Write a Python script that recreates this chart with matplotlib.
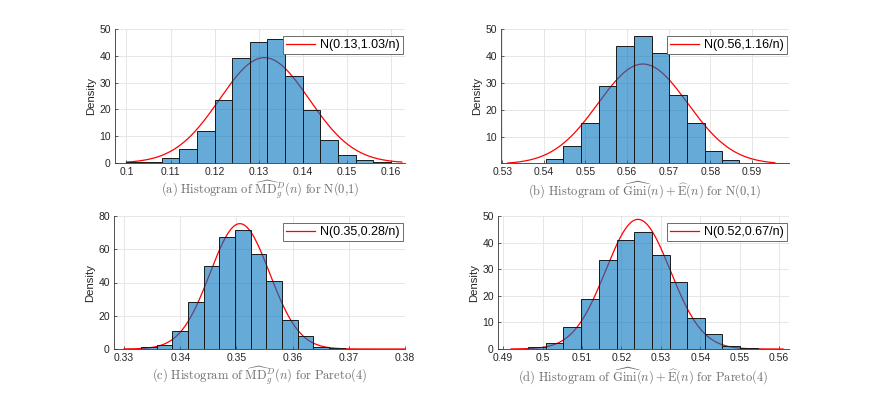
import numpy as np
import matplotlib
matplotlib.use("Agg")
import matplotlib.pyplot as plt

plt.rcParams['font.family'] = ['Liberation Sans', 'DejaVu Sans']
plt.rcParams['mathtext.fontset'] = 'cm'

# panel (a): MD estimator, N(0,1)
a_edges = [0.100, 0.104, 0.108, 0.112, 0.116, 0.120, 0.124, 0.128, 0.132,
           0.136, 0.140, 0.144, 0.148, 0.152, 0.156, 0.160]
a_heights = [0.2, 0.2, 2.0, 5.2, 11.9, 23.6, 39.1, 45.0, 46.2, 32.4, 19.7, 8.6, 3.1, 1.1, 0.2]
a_mean, a_var = 0.1313, 1.03

# panel (b): Gini + E, N(0,1)
b_edges = [0.5405, 0.5447, 0.5490, 0.5532, 0.5574, 0.5617, 0.5659, 0.5701,
           0.5743, 0.5786, 0.5828, 0.5870]
b_heights = [1.9, 6.7, 15.3, 28.9, 43.6, 47.3, 41.0, 25.7, 15.3, 4.7, 1.5]
b_mean, b_var = 0.5638, 1.16

# panel (c): MD estimator, Pareto(4)
c_edges = [0.3330, 0.3358, 0.3386, 0.3414, 0.3442, 0.3469, 0.3497, 0.3525,
           0.3553, 0.3581, 0.3609, 0.3637, 0.3665, 0.3693, 0.3721]
c_heights = [1.2, 2.4, 10.8, 28.1, 49.7, 67.6, 71.8, 57.3, 40.7, 17.4, 7.8, 1.2, 0.5, 0.2]
c_mean, c_var = 0.3506, 0.28

# panel (d): Gini + E, Pareto(4)
d_edges = [0.4919, 0.4964, 0.5008, 0.5053, 0.5098, 0.5143, 0.5188, 0.5232,
           0.5277, 0.5322, 0.5367, 0.5412, 0.5456, 0.5501, 0.5546, 0.5591]
d_heights = [0.1, 0.75, 2.4, 8.2, 18.7, 33.3, 41.1, 43.8, 35.2, 25.1, 11.6, 5.7, 1.1, 0.4, 0.1]
d_mean, d_var = 0.5242, 0.67

n = 10000

labels = ['N(0.13,1.03/n)', 'N(0.56,1.16/n)', 'N(0.35,0.28/n)', 'N(0.52,0.67/n)']
captions = [
    r'$\mathrm{(a)\ Histogram\ of\ }\widehat{\mathrm{MD}}_{g}^{D}(n)\mathrm{\ for\ N(0{,}1)}$',
    r'$\mathrm{(b)\ Histogram\ of\ }\widehat{\mathrm{Gini}}(n)+\widehat{\mathrm{E}}(n)\mathrm{\ for\ N(0{,}1)}$',
    r'$\mathrm{(c)\ Histogram\ of\ }\widehat{\mathrm{MD}}_{g}^{D}(n)\mathrm{\ for\ Pareto(4)}$',
    r'$\mathrm{(d)\ Histogram\ of\ }\widehat{\mathrm{Gini}}(n)+\widehat{\mathrm{E}}(n)\mathrm{\ for\ Pareto(4)}$',
]

W, H = 872, 393
fig = plt.figure(figsize=(W / 100, H / 100), dpi=100)

def rect(x0, x1, y0, y1):
    return [x0 / W, 1 - y1 / H, (x1 - x0) / W, (y1 - y0) / H]

panels = [
    dict(r=rect(115, 405, 29, 163), e=a_edges, h=a_heights, m=a_mean, v=a_var,
         cx=(0.1000, 0.1625), xl=(0.0974, 0.1632), yl=(0, 50),
         xt=[0.1, 0.11, 0.12, 0.13, 0.14, 0.15, 0.16], yt=[0, 10, 20, 30, 40, 50]),
    dict(r=rect(501, 789, 29, 163), e=b_edges, h=b_heights, m=b_mean, v=b_var,
         cx=(0.5313, 0.5955), xl=(0.5297, 0.5989), yl=(0.4, 50),
         xt=[0.53, 0.54, 0.55, 0.56, 0.57, 0.58, 0.59], yt=[10, 20, 30, 40, 50]),
    dict(r=rect(114, 405, 216, 349), e=c_edges, h=c_heights, m=c_mean, v=c_var,
         cx=(0.33, 0.38), xl=(0.3282, 0.38), yl=(0, 80),
         xt=[0.33, 0.34, 0.35, 0.36, 0.37, 0.38], yt=[0, 20, 40, 60, 80]),
    dict(r=rect(498, 789, 216, 349), e=d_edges, h=d_heights, m=d_mean, v=d_var,
         cx=(0.492, 0.561), xl=(0.4887, 0.5625), yl=(0, 50),
         xt=[0.49, 0.5, 0.51, 0.52, 0.53, 0.54, 0.55, 0.56], yt=[0, 10, 20, 30, 40, 50]),
]

for i, p in enumerate(panels):
    ax = fig.add_axes(p['r'])
    e = np.array(p['e'])
    sd = np.sqrt(p['v'] / n)
    xs = np.linspace(p['cx'][0], p['cx'][1], 300)
    ys = np.exp(-(xs - p['m']) ** 2 / (2 * sd ** 2)) / (sd * np.sqrt(2 * np.pi))
    ax.plot(xs, ys, color='red', lw=0.9, zorder=1, label=labels[i])
    ax.bar(e[:-1], p['h'], width=np.diff(e), align='edge',
           facecolor=(0, 0.447, 0.741, 0.6), edgecolor='#1a1a1a', linewidth=0.7, zorder=2)
    ax.set_xlim(*p['xl'])
    ax.set_ylim(*p['yl'])
    ax.set_xticks(p['xt'])
    ax.set_xticklabels([('%g' % t) for t in p['xt']])
    ax.set_yticks(p['yt'])
    ax.set_axisbelow(True)
    ax.grid(True, color='#e3e3e3', lw=0.6)
    for s in ['top', 'right']:
        ax.spines[s].set_visible(False)
    for s in ['left', 'bottom']:
        ax.spines[s].set_color('#333333')
        ax.spines[s].set_linewidth(0.6)
    ax.tick_params(direction='in', length=2, width=0.5, labelsize=7.5,
                   colors='#262626', pad=3)
    ax.set_ylabel('Density', fontsize=8.2, color='#262626', labelpad=2)
    leg = ax.legend(loc='upper right', bbox_to_anchor=(1.0, 0.965), fontsize=9,
                    fancybox=False, framealpha=1, edgecolor='#555555',
                    handlelength=2.3, borderpad=0.25, handletextpad=0.4,
                    borderaxespad=0.2)
    leg.get_frame().set_linewidth(0.6)
    cx = (p['r'][0] + p['r'][2] / 2)
    cy = p['r'][1] - 27 / H
    fig.text(cx, cy, captions[i], ha='center', va='center',
             fontsize=9, color='#6e6e6e')

fig.savefig('out.png', dpi=100)
